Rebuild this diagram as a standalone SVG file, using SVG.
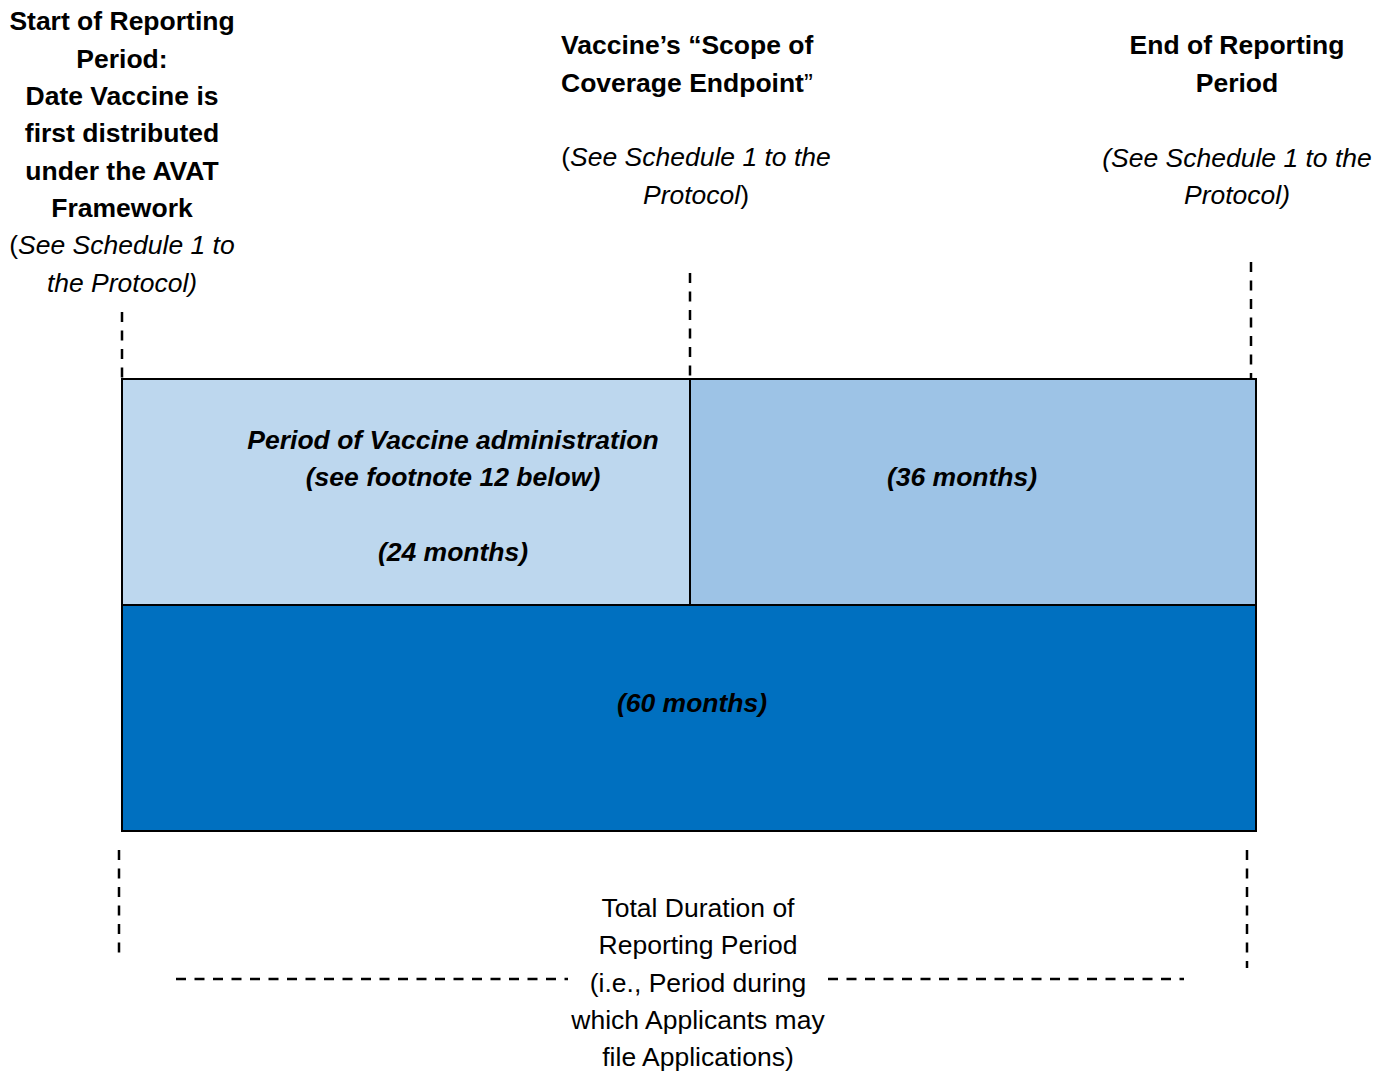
<svg xmlns="http://www.w3.org/2000/svg" width="1390" height="1073" viewBox="0 0 1390 1073">
<style>
text{font-family:"Liberation Sans",Arial,sans-serif;font-size:26.5px;fill:#000}
.b{font-weight:bold}
.i{font-style:italic}
.bi{font-weight:bold;font-style:italic}
.m{text-anchor:middle}
.box{stroke:#000;stroke-width:2}
.dash{stroke:#000;stroke-width:2.5;fill:none;stroke-dasharray:10 8.5}
</style>
<rect width="1390" height="1073" fill="#fff"/>
<g id="connectors">
<line class="dash" x1="122" y1="312" x2="122" y2="379"/>
<line class="dash" x1="690" y1="273" x2="690" y2="379"/>
<line class="dash" x1="1251" y1="262" x2="1251" y2="379"/>
<line class="dash" x1="119" y1="850" x2="119" y2="955"/>
<line class="dash" x1="1247" y1="850" x2="1247" y2="968"/>
<line class="dash" x1="176" y1="979" x2="568" y2="979"/>
<line class="dash" x1="828" y1="979" x2="1184" y2="979"/>
</g>
<g id="start-label">
<text class="b m" x="122" y="30">Start of Reporting</text>
<text class="b m" x="122" y="68">Period:</text>
<text class="b m" x="122" y="105">Date Vaccine is</text>
<text class="b m" x="122" y="142">first distributed</text>
<text class="b m" x="122" y="180">under the AVAT</text>
<text class="b m" x="122" y="217">Framework</text>
<text class="m" x="122" y="254">(<tspan class="i">See Schedule 1 to</tspan></text>
<text class="i m" x="122" y="292">the Protocol)</text>
</g>
<g id="scope-label">
<text class="b" x="561" y="54">Vaccine’s “Scope of</text>
<text class="b" x="561" y="92">Coverage Endpoint<tspan font-weight="normal">”</tspan></text>
<text class="m" x="696" y="166">(<tspan class="i">See Schedule 1 to the</tspan></text>
<text class="m" x="696" y="204"><tspan class="i">Protocol</tspan>)</text>
</g>
<g id="end-label">
<text class="b m" x="1237" y="54">End of Reporting</text>
<text class="b m" x="1237" y="92">Period</text>
<text class="i m" x="1237" y="167">(See Schedule 1 to the</text>
<text class="i m" x="1237" y="204">Protocol)</text>
</g>
<g id="admin-period">
<rect class="box" x="122" y="379" width="568" height="226" fill="#BDD7EE"/>
<text class="bi m" x="453" y="449">Period of Vaccine administration</text>
<text class="bi m" x="453" y="486">(see footnote 12 below)</text>
<text class="bi m" x="453" y="561">(24 months)</text>
</g>
<g id="remaining-period">
<rect class="box" x="690" y="379" width="566" height="226" fill="#9DC3E6"/>
<text class="bi m" x="962" y="486">(36 months)</text>
</g>
<g id="total-period">
<rect class="box" x="122" y="605" width="1134" height="226" fill="#0070C0"/>
<text class="bi m" x="692" y="712">(60 months)</text>
</g>
<g id="total-label">
<text class="m" x="698" y="917">Total Duration of</text>
<text class="m" x="698" y="954">Reporting Period</text>
<text class="m" x="698" y="992">(i.e., Period during</text>
<text class="m" x="698" y="1029">which Applicants may</text>
<text class="m" x="698" y="1066">file Applications)</text>
</g>
</svg>
